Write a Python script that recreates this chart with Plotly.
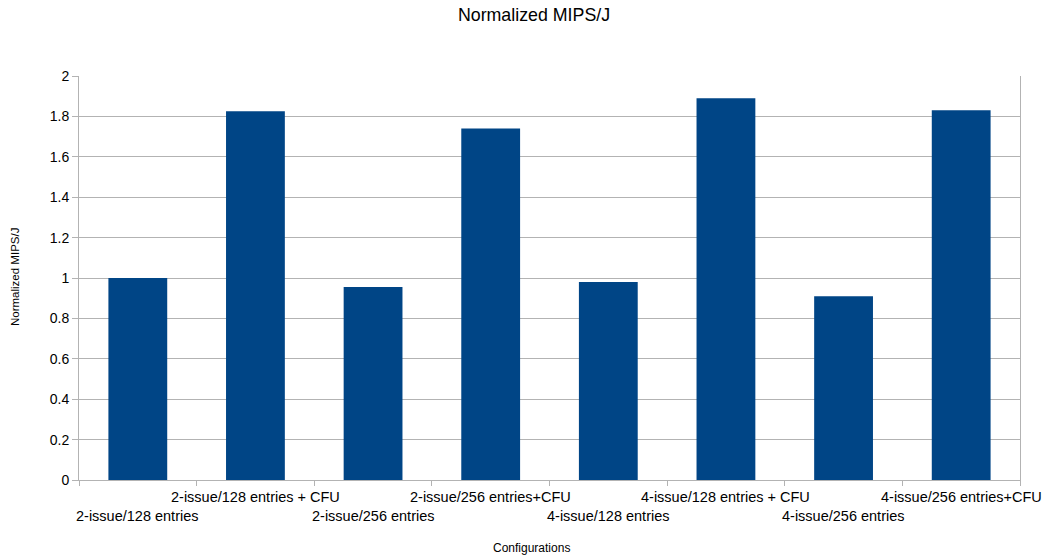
import plotly.graph_objects as go

# Configurations and their normalized MIPS/J
configs = [
    "2-issue/128 entries",
    "2-issue/128 entries + CFU",
    "2-issue/256 entries",
    "2-issue/256 entries+CFU",
    "4-issue/128 entries",
    "4-issue/128 entries + CFU",
    "4-issue/256 entries",
    "4-issue/256 entries+CFU",
]
mips_per_j = [1.0, 1.825, 0.955, 1.74, 0.98, 1.89, 0.91, 1.83]
y_ticks = [0, 0.2, 0.4, 0.6, 0.8, 1, 1.2, 1.4, 1.6, 1.8, 2]

FONT = "Liberation Sans, Arial, sans-serif"
BAR = "#004586"
GRID = "#b3b3b3"

# plot area in pixels
L, R, T, B = 79, 1020, 76, 480
PW, PH = R - L, B - T

idx = list(range(len(configs)))

fig = go.Figure(
    go.Bar(x=idx, y=mips_per_j, width=0.5, marker=dict(color=BAR, line=dict(width=0)))
)

# Category labels staggered on two rows
for i, name in enumerate(configs):
    fig.add_annotation(
        x=i, xref="x", y=0, yref="paper", yanchor="middle",
        yshift=-17 if i % 2 else -36,
        text=name, showarrow=False,
        font=dict(family=FONT, size=14.5, color="#000000"),
    )

fig.add_annotation(
    xref="paper", x=(531 - L) / PW, yref="paper", y=-(548 - B) / PH,
    xanchor="center", yanchor="middle", showarrow=False,
    text="Configurations", font=dict(family=FONT, size=12, color="#000000"),
)

fig.add_annotation(
    xref="paper", x=-(L - 15) / PW, yref="paper", y=(B - 277) / PH,
    xanchor="center", yanchor="middle", textangle=-90, showarrow=False,
    text="Normalized MIPS/J", font=dict(family=FONT, size=11.5, color="#000000"),
)

fig.update_layout(
    width=1044, height=558,
    margin=dict(l=L, r=1044 - R, t=T, b=558 - B),
    paper_bgcolor="#ffffff", plot_bgcolor="#ffffff",
    showlegend=False,
    title=dict(
        text="Normalized MIPS/J", xref="container", x=534 / 1044, xanchor="center",
        yref="container", y=1 - 15 / 558, yanchor="middle",
        font=dict(family=FONT, size=17.8, color="#000000"),
    ),
    xaxis=dict(
        range=[-0.5, len(configs) - 0.5],
        tickmode="array",
        tickvals=[i - 0.5 for i in range(len(configs) + 1)],
        ticktext=[""] * (len(configs) + 1),
        ticks="outside", ticklen=5, tickcolor=GRID, tickwidth=1,
        showgrid=False, zeroline=False,
        showline=True, linecolor=GRID, linewidth=1,
    ),
    yaxis=dict(
        range=[0, 2],
        tickmode="array", tickvals=y_ticks, ticktext=[f"{v:g}" for v in y_ticks],
        ticks="outside", ticklen=6, tickcolor=GRID, tickwidth=1,
        tickfont=dict(family=FONT, size=14, color="#000000"),
        showgrid=True, gridcolor=GRID, gridwidth=1,
        zeroline=False,
        showline=True, linecolor=GRID, linewidth=1, mirror=True,
    ),
)

fig.write_html("out.html")
